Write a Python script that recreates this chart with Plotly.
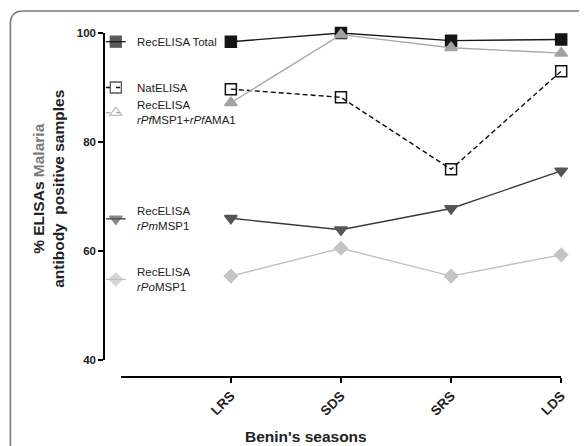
import plotly.graph_objects as go

# ---- data ----
seasons = ["LRS", "SDS", "SRS", "LDS"]
rec_total = [98.4, 100.0, 98.6, 98.8]
nat_elisa = [89.7, 88.2, 75.0, 93.0]
rec_pf = [87.2, 99.7, 97.3, 96.3]
rec_pm = [66.0, 63.9, 67.8, 74.7]
rec_po = [55.4, 60.5, 55.4, 59.3]
y_ticks = [40, 60, 80, 100]
legend_labels = [
    "RecELISA Total",
    "NatELISA",
    "RecELISA<br><i>rPf</i>MSP1+<i>rPf</i>AMA1",
    "RecELISA<br><i>rPm</i>MSP1",
    "RecELISA<br><i>rPo</i>MSP1",
]
legend_y = [98.4, 90.0, 85.4, 65.9, 54.8]

# ---- layout geometry (pixels); the page body adds an 8px offset ----
OFF = 8
W, H = 587 - OFF, 446 - OFF
L, T = 104 - OFF, 33 - OFF
R = W - (580 - OFF)
B = H - (377 - OFF)
PW, PH = W - L - R, H - T - B


def px(x):
    """reference-image x pixel -> paper fraction"""
    return (x - OFF - L) / PW


def py(y):
    """reference-image y pixel -> paper fraction"""
    return (H - B - (y - OFF)) / PH


FONT = "Liberation Sans, Arial, Helvetica, sans-serif"

series = [
    dict(y=rec_total, symbol="square", mcolor="#151515", lcolor="#1a1a1a", dash="solid", size=11),
    dict(y=nat_elisa, symbol="square-open", mcolor="#111111", lcolor="#111111", dash="5px,3px", size=11),
    dict(y=rec_pf, symbol="triangle-up", mcolor="#a3a3a3", lcolor="#a8a8a8", dash="solid", size=11),
    dict(y=rec_pm, symbol="triangle-down", mcolor="#555555", lcolor="#3a3a3a", dash="solid", size=11),
    dict(y=rec_po, symbol="diamond", mcolor="#c4c4c4", lcolor="#c0c0c0", dash="solid", size=10),
]
legend_symbols = ["square", "square-open", "triangle-up-open", "triangle-down", "diamond"]

fig = go.Figure()

for s in series:
    fig.add_trace(go.Scatter(
        x=seasons, y=s["y"], mode="lines+markers", cliponaxis=False,
        line=dict(color=s["lcolor"], width=1.4, dash=s["dash"]),
        marker=dict(symbol=s["symbol"], size=s["size"], color=s["mcolor"],
                    line=dict(color=s["mcolor"], width=1.5)),
        showlegend=False, hoverinfo="skip",
    ))

# hand-made legend on the left
for i, (lab, ly, sym) in enumerate(zip(legend_labels, legend_y, legend_symbols)):
    s = series[i]
    fig.add_trace(go.Scatter(
        x=[2, 12, 22], y=[ly, ly, ly], xaxis="x3", yaxis="y", mode="lines+markers",
        cliponaxis=False,
        line=dict(color=s["lcolor"], width=1.3, dash="4px,6px" if i in (1, 2) else "solid"),
        marker=dict(symbol=sym, size=[0, s["size"], 0], color=s["mcolor"],
                    line=dict(color=s["mcolor"], width=1.3)),
        showlegend=False, hoverinfo="skip",
    ))
    fig.add_annotation(x=px(135), xref="paper", y=ly, yref="y", text=lab, showarrow=False,
                       xanchor="left", yanchor="middle", align="left",
                       font=dict(family=FONT, size=11.5, color="#222222"))

# axis titles
fig.add_annotation(x=px(47), y=py(189), xref="paper", yref="paper",
                   text="% ELISAs <span style='color:#7a7a7a'>Malaria</span><br>antibody  positive samples",
                   textangle=-90, showarrow=False, xanchor="center", yanchor="middle",
                   font=dict(family=FONT, size=15.5, color="#222222", weight="bold"))
fig.add_annotation(x=px(309), y=py(436), xref="paper", yref="paper",
                   text="Benin's seasons", showarrow=False, xanchor="center", yanchor="middle",
                   font=dict(family=FONT, size=15.5, color="#222222", weight="bold"))

# scanned frame with rounded corner
fig.add_shape(type="path", xref="paper", yref="paper",
              path=(f"M {px(9)} {py(450)} L {px(9)} {py(24)} Q {px(9)} {py(11)} {px(22)} {py(11)} "
                    f"L {px(590)} {py(11)}"),
              line=dict(color="#7a7a7a", width=1.6))

fig.update_layout(
    width=W, height=H, margin=dict(l=L, r=R, t=T, b=B),
    plot_bgcolor="rgba(0,0,0,0)", paper_bgcolor="white", showlegend=False,
    xaxis=dict(type="category", categoryorder="array", categoryarray=seasons,
               range=[-1, 3], domain=[px(121), px(568)], anchor="free", position=0,
               showline=True, linecolor="black", linewidth=1.5, ticks="outside",
               ticklen=5, tickwidth=1.5, tickcolor="black", tickangle=-45, showgrid=False,
               zeroline=False,
               tickfont=dict(family=FONT, size=13.5, color="#222222", weight="bold")),
    xaxis3=dict(domain=[0, 1], range=[0, PW], visible=False, anchor="y"),
    yaxis=dict(range=[40, 100], domain=[py(360), 1], tickvals=y_ticks,
               anchor="free", position=0,
               ticks="outside", ticklen=5, tickwidth=1.5, tickcolor="black",
               showline=True, linecolor="black", linewidth=1.5, showgrid=False,
               zeroline=False,
               tickfont=dict(family=FONT, size=11.5, color="#222222", weight="bold")),
)

fig.write_html("out.html")
